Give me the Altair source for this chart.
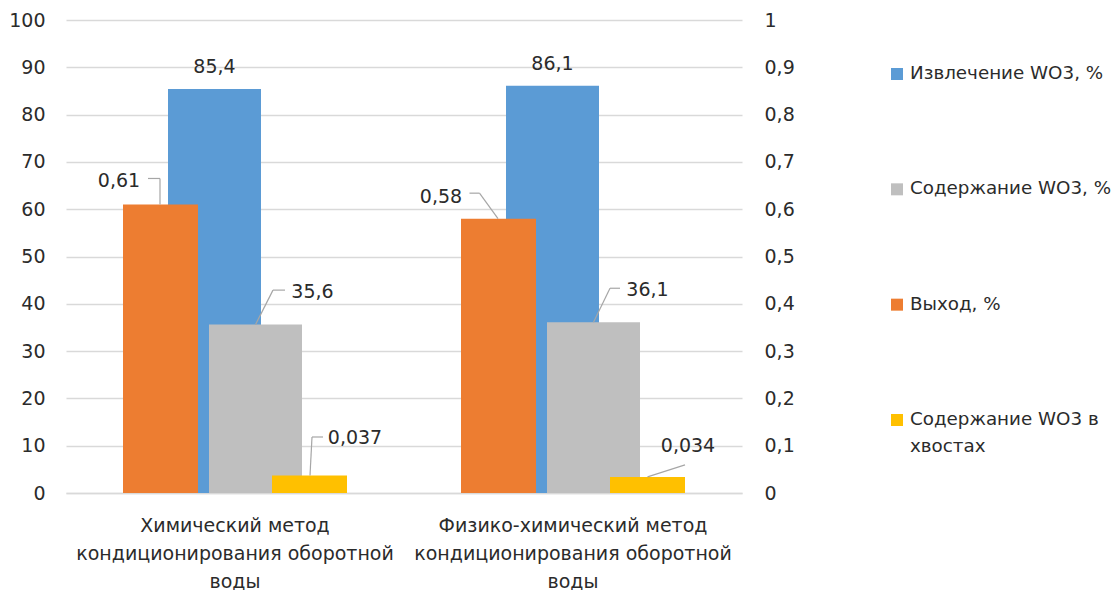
import altair as alt
import pandas as pd

# ---------------- data ----------------
CATEGORIES = [
    "Химический метод кондиционирования оборотной воды",
    "Физико-химический метод кондиционирования оборотной воды",
]
CATEGORY_LINES = [
    ["Химический метод", "кондиционирования оборотной", "воды"],
    ["Физико-химический метод", "кондиционирования оборотной", "воды"],
]
SERIES = [
    "Извлечение WO3, %",
    "Содержание WO3, %",
    "Выход, %",
    "Содержание WO3 в хвостах",
]
LEGEND_LABELS = [
    "Извлечение WO3, %",
    "Содержание WO3, %",
    "Выход, %",
    "Содержание WO3 в\nхвостах",
]
EXTRACTION = [85.4, 86.1]   # left axis
CONTENT = [35.6, 36.1]      # left axis
YIELD = [0.61, 0.58]        # right axis
TAILS = [0.037, 0.034]      # right axis
LEFT_TICKS = [0, 10, 20, 30, 40, 50, 60, 70, 80, 90, 100]
RIGHT_TICKS = [0, 0.1, 0.2, 0.3, 0.4, 0.5, 0.6, 0.7, 0.8, 0.9, 1]

COLORS = ["#5B9BD5", "#BFBFBF", "#ED7D31", "#FFC000"]
FONT = "DejaVu Sans"
FS = 19
LEG_FS = 18.3
TXT = "#2B2B2B"

rows = []
for s, vals in zip(SERIES, [EXTRACTION, CONTENT, YIELD, TAILS]):
    for c, v in zip(CATEGORIES, vals):
        rows.append({"category": c, "series": s, "value": v})
df = pd.DataFrame(rows)
legend_df = pd.DataFrame({"series": SERIES, "label": LEGEND_LABELS})

# ---------------- layout styling ----------------
W, H = 676, 473
# per series: bar width, offset from band centre, axis side
BAR = {
    SERIES[0]: dict(w=93, off=-20.5, side="left"),
    SERIES[1]: dict(w=93, off=20.5, side="left"),
    SERIES[2]: dict(w=75, off=-74.5, side="right"),
    SERIES[3]: dict(w=75, off=74.5, side="right"),
}
# per series and category: label offset and leader line (relative to bar top centre)
ANNOT = {
    SERIES[0]: [dict(dx=0, dy=-22, lead=None), dict(dx=0, dy=-22, lead=None)],
    SERIES[1]: [dict(dx=57, dy=-33, lead=[(29.5, -34.5), (17.5, -34.5), (0, 0)]),
                dict(dx=54, dy=-32, lead=[(26.5, -34), (16.5, -34), (0, 0)])],
    SERIES[2]: [dict(dx=-41.5, dy=-23.5, lead=[(-12.5, -26), (-0.5, -26), (-0.5, 0)]),
                dict(dx=-57.5, dy=-22, lead=[(-29, -25.5), (-19, -25.5), (-0.5, 0)])],
    SERIES[3]: [dict(dx=45.5, dy=-37.5, lead=[(13.5, -38.5), (2.5, -38.5), (0.5, 0)]),
                dict(dx=40.5, dy=-30.5, lead=[(37.5, -12), (0, 0)])],
}

label_expr = " : ".join(
    f"datum.value == '{c}' ? {lines!r}" for c, lines in zip(CATEGORIES, CATEGORY_LINES)
) + " : datum.label"

X_AXIS = alt.Axis(
    title=None, labelExpr=label_expr, labelAngle=0, labelFontSize=FS, labelFont=FONT,
    labelColor=TXT, labelLineHeight=28, labelPadding=23, labelLimit=500,
    domain=True, domainColor="#D9D9D9", domainWidth=1.3, ticks=False, grid=False,
)
X_ENC = alt.X("category:N", sort=CATEGORIES,
              scale=alt.Scale(paddingInner=0, paddingOuter=0), axis=X_AXIS)


def y_enc(side, axis=None):
    dom = [0, 100] if side == "left" else [0, 1]
    return alt.Y("value:Q", scale=alt.Scale(domain=dom, nice=False, zero=True),
                 axis=axis, title=None)


LEFT_AXIS = alt.Axis(
    orient="left", values=LEFT_TICKS, title=None, labelFontSize=FS, labelFont=FONT,
    labelColor=TXT, labelPadding=21, domain=False, ticks=False, grid=True,
    gridColor="#D9D9D9", gridWidth=1.3,
)
RIGHT_AXIS = alt.Axis(
    orient="right", values=RIGHT_TICKS, title=None, labelFontSize=FS, labelFont=FONT,
    labelColor=TXT, labelPadding=22, domain=False, ticks=False, grid=False,
    labelExpr="replace(format(datum.value, '~g'), '.', ',')",
)

COLOR = alt.Color("series:N", scale=alt.Scale(domain=SERIES, range=COLORS), legend=None)

base = alt.Chart(df)

bar_layers, annot_layers = [], []
for s in SERIES:
    cfg = BAR[s]
    axis = None
    if s == SERIES[0]:
        axis = LEFT_AXIS
    if s == SERIES[2]:
        axis = RIGHT_AXIS
    bar_layers.append(
        base.transform_filter(alt.datum.series == s)
        .mark_bar(width=cfg["w"], xOffset=cfg["off"])
        .encode(x=X_ENC, y=y_enc(cfg["side"], axis), color=COLOR)
    )
    for ci, c in enumerate(CATEGORIES):
        a = ANNOT[s][ci]
        sub = base.transform_filter((alt.datum.series == s) & (alt.datum.category == c))
        if a["lead"]:
            pts = a["lead"]
            for (x1, y1), (x2, y2) in zip(pts[:-1], pts[1:]):
                annot_layers.append(
                    sub.mark_rule(
                        color="#A6A6A6", strokeWidth=1.2,
                        xOffset=cfg["off"] + x1, x2Offset=cfg["off"] + x2,
                        yOffset=y1, y2Offset=y2,
                    ).encode(x=X_ENC, x2="category:N", y=y_enc(cfg["side"]), y2="value:Q")
                )
        annot_layers.append(
            sub.transform_calculate(lab="replace(format(datum.value, '~g'), '.', ',')")
            .mark_text(font=FONT, fontSize=FS, color=TXT, baseline="middle", align="center",
                       dx=cfg["off"] + a["dx"], dy=a["dy"])
            .encode(x=X_ENC, y=y_enc(cfg["side"]), text="lab:N")
        )

# legend (drawn from the series list, placed to the right of the plot)
LEG_Y = alt.Y("series:N", sort=SERIES,
              scale=alt.Scale(type="point", domain=SERIES, range=[54, 400], padding=0),
              axis=None)
leg_base = alt.Chart(legend_df)
leg_sym = leg_base.mark_square(size=144, opacity=1).encode(
    x=alt.value(831), y=LEG_Y, color=COLOR
)
leg_txt = leg_base.mark_text(
    font=FONT, fontSize=LEG_FS, color=TXT, align="left", baseline="middle",
    lineBreak="\n", lineHeight=27,
).encode(x=alt.value(844), y=LEG_Y, text="label:N")

chart = (
    alt.layer(*bar_layers, *annot_layers, leg_sym, leg_txt)
    .resolve_scale(y="independent")
    .properties(
        width=W, height=H,
        autosize=alt.AutoSizeParams(type="none"),
        padding={"left": 66, "top": 20, "right": 1115 - 66 - W, "bottom": 590 - 20 - H},
        background="white",
    )
    .configure_view(stroke=None)
)

chart.save("out.html", embed_options={"renderer": "svg", "actions": False})
